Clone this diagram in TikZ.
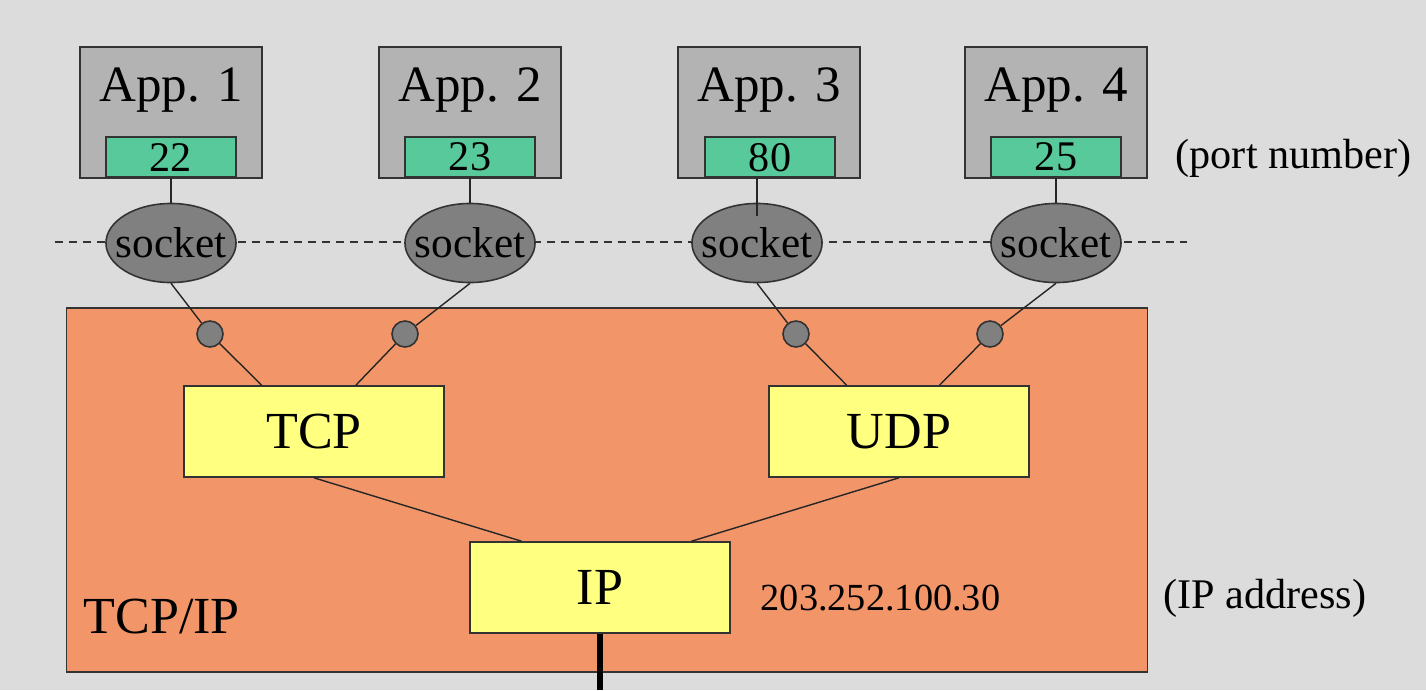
\documentclass[tikz,border=0pt]{standalone}
\usepackage{fontspec}
\setmainfont{Liberation Serif}
\usetikzlibrary{positioning, shapes, calc}

\definecolor{bggray}{HTML}{DCDCDC}
\definecolor{appgray}{HTML}{B3B3B3}
\definecolor{portgreen}{HTML}{58C99B}
\definecolor{sockgray}{HTML}{808080}
\definecolor{stackorange}{HTML}{F29669}
\definecolor{protoyellow}{HTML}{FFFF80}

\begin{document}
\begin{tikzpicture}[x=0.01cm, y=-0.01cm,
      appbox/.style={rectangle, draw=black!80, fill=appgray, minimum width=1.82cm, minimum height=1.31cm, inner sep=0, line width=0.45pt},
      applabel/.style={font=\fontsize{14.5}{15}\selectfont, inner sep=0, anchor=base},
      portbox/.style={rectangle, draw=black!80, fill=portgreen, minimum width=1.30cm, minimum height=0.40cm, inner sep=0, anchor=south, line width=0.45pt, font=\fontsize{12}{12}\selectfont},
      sock/.style={ellipse, draw=black!80, fill=sockgray, minimum width=1.30cm, minimum height=0.79cm, inner sep=0, line width=0.45pt,
        label={[font=\fontsize{12.3}{12}\selectfont, inner sep=0]center:socket}},
      hole/.style={circle, draw=black!80, fill=sockgray, minimum size=0.26cm, inner sep=0, line width=0.45pt},
      proto/.style={rectangle, draw=black!80, fill=protoyellow, minimum width=2.60cm, minimum height=0.91cm, inner sep=0, line width=0.45pt, font=\fontsize{14.8}{15}\selectfont},
      wire/.style={draw=black!85, line width=0.4pt},
      note/.style={font=\fontsize{12}{12}\selectfont, inner sep=0}]

      \fill[bggray] (0,0) rectangle (1426,690);
      \useasboundingbox (0,0) rectangle (1426,690);

      % separation between applications and the stack
      \coordinate (dl) at (55,242);
      \coordinate (dr) at (1187,242);
      \draw[black!80, line width=0.4pt, dash pattern=on 2.3pt off 1.7pt] (dl) -- (dr);

      \node[rectangle, draw=black!80, fill=stackorange, minimum width=10.80cm, minimum height=3.64cm, line width=0.45pt] (stack) at (607,490) {};
      \node[font=\fontsize{14.8}{15}\selectfont, inner sep=0, anchor=base west] (stacklabel) at ([xshift=0.17cm, yshift=0.39cm]stack.south west) {TCP/IP};

      % applications
      \node[appbox] (app1) at (171,112.5) {};
      \node[appbox] (app2) at (470,112.5) {};
      \node[appbox] (app3) at (769,112.5) {};
      \node[appbox] (app4) at (1056,112.5) {};

      \node[applabel] (lab1) at ([yshift=-0.55cm]app1.north) {App. 1};
      \node[applabel] (lab2) at ([yshift=-0.55cm]app2.north) {App. 2};
      \node[applabel] (lab3) at ([yshift=-0.55cm]app3.north) {App. 3};
      \node[applabel] (lab4) at ([yshift=-0.55cm]app4.north) {App. 4};

      \node[portbox] (p22) at (171,178) {22};
      \node[portbox] (p23) at (470,178) {23};
      \node[portbox] (p80) at (770,178) {80};
      \node[portbox] (p25) at (1056,178) {25};

      \node[note, anchor=west] (portnote) at (1175,158) {(port number)};

      % sockets
      \node[sock] (s1) at (171,243) {};
      \node[sock] (s2) at (470,243) {};
      \node[sock] (s3) at (757,243) {};
      \node[sock] (s4) at (1056,243) {};

      % protocols
      \node[proto] (tcp) at (314,431.5) {TCP};
      \node[proto] (udp) at (899,431.5) {UDP};
      \node[proto] (ip) at (600,587.5) {IP};

      \node[font=\fontsize{10.9}{11}\selectfont, inner sep=0, anchor=west] (addr) at (760,598) {203.252.100.30};
      \node[note, anchor=west] (ipnote) at (1163,598) {(IP address)};

      % wires
      \draw[wire] (p22.south) -- (s1.north);
      \draw[wire] (p23.south) -- (s2.north);
      \draw[wire] (p80.south -| s3.north) -- ([yshift=-0.13cm]s3.north);
      \draw[wire] (p25.south) -- (s4.north);

      \node[hole] (h1) at (210,334) {};
      \node[hole] (h2) at (405,334) {};
      \node[hole] (h3) at (796,334) {};
      \node[hole] (h4) at (990,334) {};

      \draw[wire] (s1.south) -- (h1) -- ($(tcp.north west)!0.3!(tcp.north east)$);
      \draw[wire] (s2.south) -- (h2) -- ($(tcp.north west)!0.66!(tcp.north east)$);
      \draw[wire] (s3.south) -- (h3) -- ($(udp.north west)!0.3!(udp.north east)$);
      \draw[wire] (s4.south) -- (h4) -- ($(udp.north west)!0.655!(udp.north east)$);

      \draw[wire] (tcp.south) -- ($(ip.north west)!0.2!(ip.north east)$);
      \draw[wire] (udp.south) -- ($(ip.north west)!0.85!(ip.north east)$);

      \coordinate (net) at (600,690);
      \draw[line width=1.5pt] (ip.south) -- (net);
\end{tikzpicture}
\end{document}
